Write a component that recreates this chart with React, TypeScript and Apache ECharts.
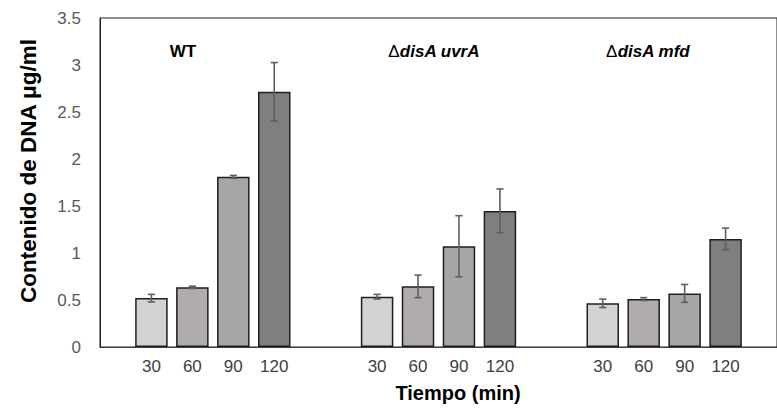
import React, { useEffect, useRef } from "react";
import * as echarts from "echarts";

const groups = ["WT", "ΔdisA uvrA", "ΔdisA mfd"];
const timeLabels = ["30", "60", "90", "120"];
const values30 = [0.52, 0.535, 0.465];
const values60 = [0.635, 0.645, 0.51];
const values90 = [1.81, 1.072, 0.57];
const values120 = [2.716, 1.448, 1.15];
const err30 = [0.04, 0.025, 0.045];
const err60 = [0.012, 0.12, 0.015];
const err90 = [0.015, 0.325, 0.095];
const err120 = [0.31, 0.233, 0.115];
const barColors = ["#d3d2d3", "#b1acac", "#a6a6a6", "#7f7f7f"];

const BAR_RATIO = 0.144;
const GAP_RATIO = 0.26;
const FONT = "'Liberation Sans', Arial, sans-serif";

export default function App() {
  const ref = useRef<HTMLDivElement>(null);
  useEffect(() => {
    if (!ref.current) return;
    const chart = echarts.init(ref.current, null, { renderer: "svg" });
    const values = [values30, values60, values90, values120];
    const errs = [err30, err60, err90, err120];

    const barSeries = values.map((vals, si) => ({
      type: "bar",
      name: timeLabels[si],
      data: vals,
      barWidth: (BAR_RATIO * 100).toFixed(1) + "%",
      barGap: GAP_RATIO * 100 + "%",
      itemStyle: { color: barColors[si], borderColor: "#1e1e1e", borderWidth: 1.5 },
      label: {
        show: true,
        position: "bottom",
        distance: 11,
        formatter: () => timeLabels[si],
        color: "#404040",
        fontSize: 17,
        fontFamily: FONT,
      },
      z: 2,
    }));

    const errSeries = errs.map((ev, si) => ({
      type: "custom",
      name: "err" + timeLabels[si],
      data: ev.map((e, gi) => [gi, values[si][gi], e]),
      encode: { x: 0, y: 1 },
      z: 5,
      renderItem: (params: any, api: any) => {
        const idx = api.value(0);
        const v = api.value(1);
        const e = api.value(2);
        const band = api.size([1, 0])[0];
        const bw = band * BAR_RATIO;
        const pitch = bw * (1 + GAP_RATIO);
        const c = api.coord([idx, v]);
        const x = c[0] + (si - 1.5) * pitch;
        const yt = api.coord([idx, v + e])[1];
        const yb = api.coord([idx, v - e])[1];
        const hw = 3.6;
        const st = { stroke: "#5f5f5f", lineWidth: 1.6 };
        return {
          type: "group",
          children: [
            { type: "line", shape: { x1: x, y1: yt, x2: x, y2: yb }, style: st },
            { type: "line", shape: { x1: x - hw, y1: yt, x2: x + hw, y2: yt }, style: st },
            { type: "line", shape: { x1: x - hw, y1: yb, x2: x + hw, y2: yb }, style: st },
          ],
        };
      },
    }));

    const titleRich = {
      d: { fontSize: 17, fontFamily: FONT, fill: "#000" },
      i: { fontSize: 17, fontFamily: FONT, fontWeight: "bold", fontStyle: "italic", fill: "#000" },
    };

    chart.setOption({
      animation: false,
      grid: {
        left: 100,
        top: 18,
        right: -10,
        bottom: 61,
        show: true,
        borderColor: "#1e1e1e",
        borderWidth: 1,
      },
      xAxis: {
        type: "category",
        data: groups,
        axisLabel: { show: false },
        axisTick: { show: false },
        axisLine: { lineStyle: { color: "#404040", width: 1.2 } },
      },
      yAxis: {
        type: "value",
        min: 0,
        max: 3.5,
        interval: 0.5,
        splitLine: { show: false },
        axisTick: { show: false },
        axisLine: { show: true, lineStyle: { color: "#1e1e1e", width: 1 } },
        axisLabel: { color: "#595959", fontSize: 17, fontFamily: FONT, margin: 19 },
      },
      graphic: [
        {
          type: "text",
          x: 28,
          y: 171,
          rotation: Math.PI / 2,
          style: {
            text: "Contenido de DNA μg/ml",
            font: `bold 22.5px ${FONT}`,
            fill: "#000",
            textAlign: "center",
            textVerticalAlign: "middle",
          },
        },
        {
          type: "text",
          x: 458,
          y: 393,
          style: {
            text: "Tiempo (min)",
            font: `bold 20px ${FONT}`,
            fill: "#000",
            textAlign: "center",
            textVerticalAlign: "middle",
          },
        },
        {
          type: "text",
          x: 183,
          y: 51,
          style: {
            text: "WT",
            font: `bold 17px ${FONT}`,
            fill: "#000",
            textAlign: "center",
            textVerticalAlign: "middle",
          },
        },
        {
          type: "text",
          x: 434,
          y: 51,
          style: {
            text: "{d|Δ}{i|disA uvrA}",
            textAlign: "center",
            textVerticalAlign: "middle",
            rich: titleRich,
          },
        },
        {
          type: "text",
          x: 648,
          y: 51,
          style: {
            text: "{d|Δ}{i|disA mfd}",
            textAlign: "center",
            textVerticalAlign: "middle",
            rich: titleRich,
          },
        },
      ],
      series: [...barSeries, ...errSeries],
    });
    return () => chart.dispose();
  }, []);
  return (
    <div
      ref={ref}
      style={{ position: "fixed", left: 0, top: 0, width: 777, height: 408, background: "#fff" }}
    />
  );
}
